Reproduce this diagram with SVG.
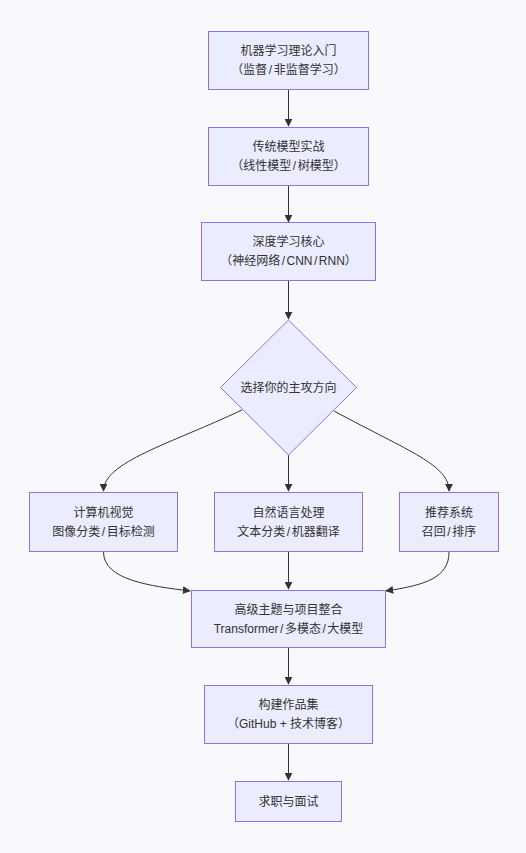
<svg xmlns="http://www.w3.org/2000/svg" width="526" height="853" viewBox="0 0 526 853">
<style>
.bg{fill:#f8f9fc}
.n{fill:#ececff;stroke:#9370db;stroke-width:1}
.t{font-family:"Liberation Sans","Noto Sans CJK SC",sans-serif;font-size:12px;fill:#333;text-anchor:middle}
.e{fill:none;stroke:#333;stroke-width:1}
</style>
<defs>
<marker id="ah" viewBox="0 0 10 10" refX="9" refY="5" markerWidth="8" markerHeight="8" markerUnits="userSpaceOnUse" orient="auto">
<path d="M0,0L10,5L0,10z" fill="#333"/>
</marker>
</defs>
<rect class="bg" x="0" y="0" width="526" height="853"/>
<g id="connectors">
<path class="e" d="M288.5,90V126" marker-end="url(#ah)"/>
<path class="e" d="M288.5,185V222" marker-end="url(#ah)"/>
<path class="e" d="M288.5,280V319" marker-end="url(#ah)"/>
<path class="e" d="M242,410C170,444 103.5,462 103.5,491" marker-end="url(#ah)"/>
<path class="e" d="M288.5,455V491" marker-end="url(#ah)"/>
<path class="e" d="M334,411C410,452 449,465 449,491" marker-end="url(#ah)"/>
<path class="e" d="M103.5,552C103.5,580 150,586 190,591" marker-end="url(#ah)"/>
<path class="e" d="M288.5,552V589" marker-end="url(#ah)"/>
<path class="e" d="M449,552C449,578 425,585 386,591" marker-end="url(#ah)"/>
<path class="e" d="M288.5,648V684" marker-end="url(#ah)"/>
<path class="e" d="M288.5,743V780" marker-end="url(#ah)"/>
</g>
<g id="n1"><rect class="n" x="208.5" y="31.5" width="160" height="58"/>
<text class="t" x="288.5" y="55">机器学习理论入门</text><text class="t" x="288.5" y="74">（监督<tspan dx="1.5">/</tspan><tspan dx="1.5">非监督学习）</tspan></text></g>
<g id="n2"><rect class="n" x="208.5" y="127.5" width="160" height="58"/>
<text class="t" x="288.5" y="151">传统模型实战</text><text class="t" x="288.5" y="170">（线性模型<tspan dx="1.5">/</tspan><tspan dx="1.5">树模型）</tspan></text></g>
<g id="n3"><rect class="n" x="201.5" y="222.5" width="174" height="58"/>
<text class="t" x="288.5" y="246">深度学习核心</text><text class="t" x="288.5" y="265">（神经网络<tspan dx="1.5">/</tspan><tspan dx="1.5">CNN</tspan><tspan dx="1.5">/</tspan><tspan dx="1.5">RNN）</tspan></text></g>
<g id="d"><polygon class="n" points="288.5,320 356.5,387.5 288.5,455 220.5,387.5"/>
<text class="t" x="288.5" y="392">选择你的主攻方向</text></g>
<g id="cv"><rect class="n" x="29.5" y="492.5" width="148" height="59"/>
<text class="t" x="103.5" y="517">计算机视觉</text><text class="t" x="103.5" y="536">图像分类<tspan dx="1.5">/</tspan><tspan dx="1.5">目标检测</tspan></text></g>
<g id="nlp"><rect class="n" x="214.5" y="492.5" width="148" height="59"/>
<text class="t" x="288.5" y="517">自然语言处理</text><text class="t" x="288.5" y="536">文本分类<tspan dx="1.5">/</tspan><tspan dx="1.5">机器翻译</tspan></text></g>
<g id="rec"><rect class="n" x="399.5" y="492.5" width="99" height="59"/>
<text class="t" x="449" y="517">推荐系统</text><text class="t" x="449" y="536">召回<tspan dx="1.5">/</tspan><tspan dx="1.5">排序</tspan></text></g>
<g id="adv"><rect class="n" x="191.5" y="590.5" width="194" height="57"/>
<text class="t" x="288.5" y="614">高级主题与项目整合</text><text class="t" x="288.5" y="633">Transformer<tspan dx="1.5">/</tspan><tspan dx="1.5">多模态</tspan><tspan dx="1.5">/</tspan><tspan dx="1.5">大模型</tspan></text></g>
<g id="port"><rect class="n" x="204.5" y="685.5" width="168" height="58"/>
<text class="t" x="288.5" y="709">构建作品集</text><text class="t" x="288.5" y="728">（GitHub + 技术博客）</text></g>
<g id="job"><rect class="n" x="235.5" y="781.5" width="106" height="40"/>
<text class="t" x="288.5" y="806">求职与面试</text></g>
</svg>
